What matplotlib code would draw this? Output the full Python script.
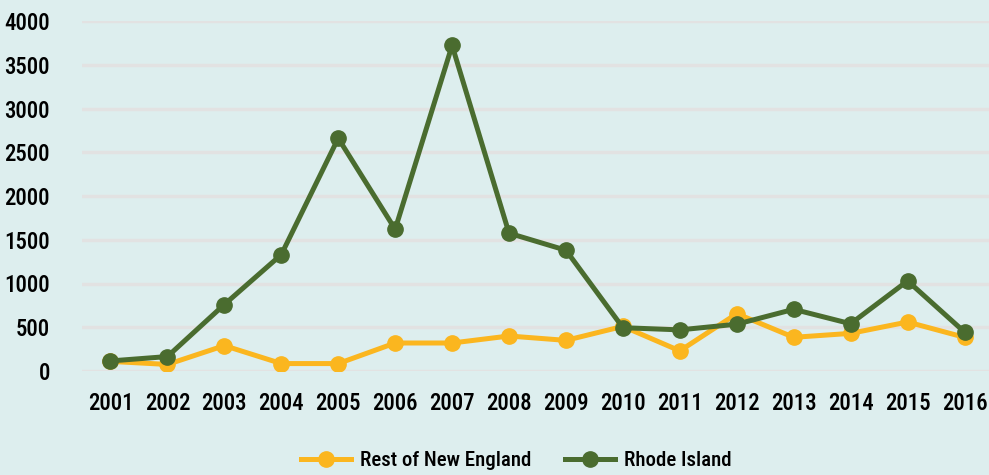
import matplotlib
matplotlib.use('Agg')
import matplotlib.pyplot as plt

# Data
years = list(range(2001, 2017))
rest_of_new_england = [110, 75, 290, 85, 85, 320, 320, 400, 350, 510,
                       230, 655, 385, 430, 560, 385]
rhode_island = [115, 165, 760, 1330, 2660, 1620, 3720, 1575, 1380, 495,
                470, 535, 705, 540, 1030, 445]
y_ticks = [0, 500, 1000, 1500, 2000, 2500, 3000, 3500, 4000]

BG = '#ddeeee'
YELLOW = '#fbb61f'
GREEN = '#4a6c2f'

# condensed face if one is installed, else Roboto (narrower than DejaVu)
plt.rcParams['font.family'] = ['Roboto Condensed', 'DejaVu Sans Condensed',
                               'Liberation Sans Narrow', 'Roboto',
                               'DejaVu Sans']
plt.rcParams['font.weight'] = 'medium'

fig = plt.figure(figsize=(9.89, 4.75), dpi=100, facecolor=BG)
ax = fig.add_axes([82 / 989, 104 / 475, 911 / 989, 350 / 475])
ax.set_facecolor(BG)

ax.plot(years, rest_of_new_england, color=YELLOW, lw=3.6, marker='o',
        ms=11, label='Rest of New England', zorder=3)
ax.plot(years, rhode_island, color=GREEN, lw=3.6, marker='o',
        ms=11, label='Rhode Island', zorder=4)

ax.set_xlim(2000.5, 2016.5)
ax.set_ylim(0, 4000)
ax.set_xticks(years)
ax.set_yticks(y_ticks)
ax.tick_params(axis='both', length=0, labelsize=16.5, colors='black')
ax.tick_params(axis='y', pad=23)
ax.tick_params(axis='x', pad=15)
ax.grid(axis='y', color='#e2e2e2', lw=2.5, zorder=0)
ax.set_axisbelow(True)
for s in ax.spines.values():
    s.set_visible(False)

fig.legend(loc='lower center', bbox_to_anchor=(0.522, -0.03), ncol=2,
           frameon=False, fontsize=15, handlelength=2.4,
           columnspacing=1.6, handletextpad=0.45)

fig.savefig('out.png', dpi=100, facecolor=BG)
